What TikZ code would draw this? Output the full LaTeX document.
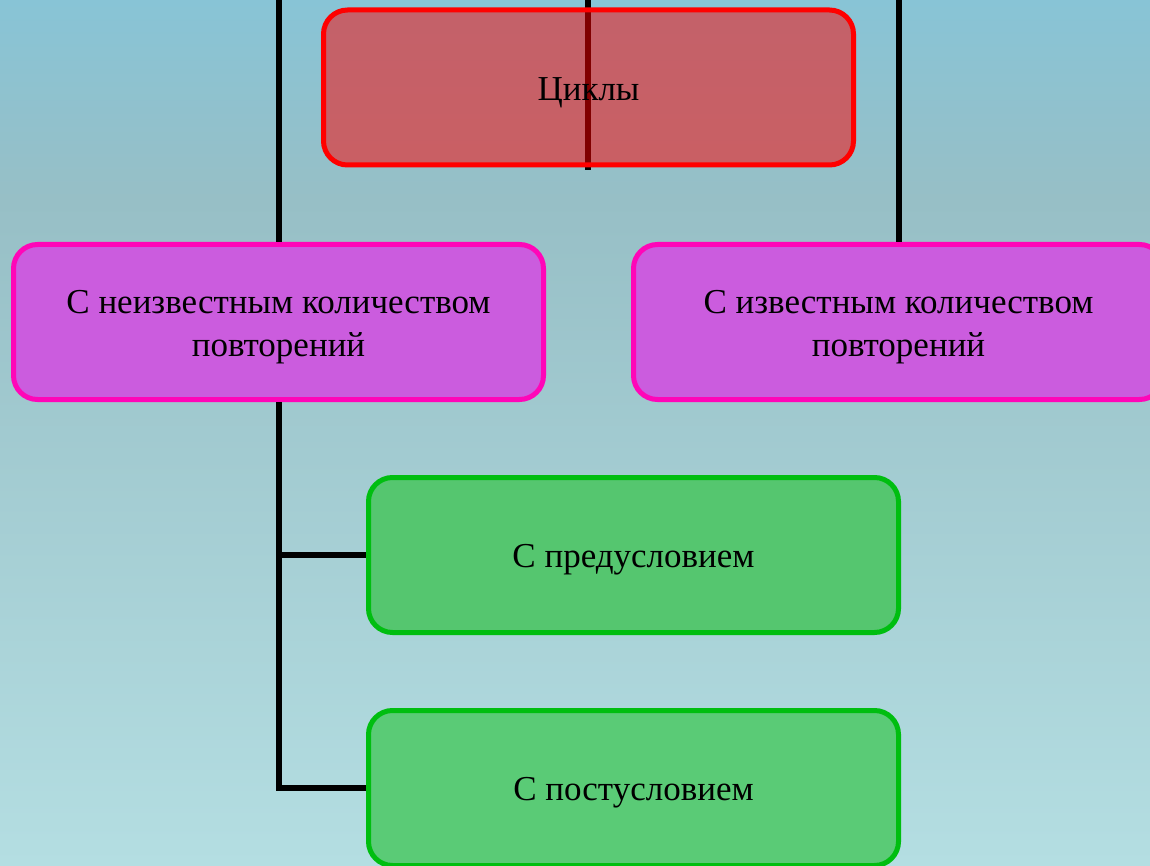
\documentclass[tikz,border=0pt]{standalone}
\usepackage{fontspec}
\setmainfont{Liberation Serif}
\definecolor{bgtop}{HTML}{88C4D6}
\definecolor{bgmid}{HTML}{97BFC6}
\definecolor{bgbot}{HTML}{B4DEE2}
\definecolor{magfill}{HTML}{CB5CDE}
\definecolor{magline}{HTML}{FF06B8}
\definecolor{grfill}{HTML}{55C66F}
\definecolor{grfillb}{HTML}{5ACB76}
\definecolor{grline}{HTML}{00BE10}
\tikzset{
  boxbase/.style={rectangle, rounded corners=24pt, line width=5pt,
    minimum width=530pt, minimum height=155pt, align=center,
    font=\fontsize{35}{43}\selectfont, text=black},
  redbox/.style={boxbase, draw=red, fill=red, fill opacity=0.5, text opacity=1},
  magbox/.style={boxbase, draw=magline, fill=magfill},
  grbox/.style={boxbase, draw=grline, fill=grfill},
  conn/.style={line width=6pt, black},
  txt/.style={font=\fontsize{35}{43}\selectfont, align=center, text=black, inner sep=0pt},
}
\begin{document}
\begin{tikzpicture}[x=1pt,y=-1pt]
\useasboundingbox (0,0) rectangle (1150,866);
\shade[top color=bgtop, bottom color=bgmid] (0,0) rectangle (1150,200);
\shade[top color=bgmid, bottom color=bgbot] (0,200) rectangle (1150,866);

\coordinate (tl) at (278.5,0);
\coordinate (tm) at (588,0);
\coordinate (tr) at (898.5,0);
\coordinate (mb) at (588,170);

\node[magbox] (unk) at (278.5,322) {};
\node[txt] (unkt) at (278.5,327) {С неизвестным количеством\\повторений};
\node[magbox] (kn) at (898.5,322) {};
\node[txt] (knt) at (898.5,327) {С известным количеством\\повторений};
\node[grbox] (pre) at (633.5,555) {};
\node[txt] (pret) at (633.5,560) {С предусловием};
\node[grbox, fill=grfillb] (post) at (633.5,788) {};
\node[txt] (postt) at (633.5,793) {С постусловием};

\draw[conn] (tl) -- (unk.north);
\draw[conn] (tr) -- (kn.north);
\draw[conn] (tm) -- (mb);
\draw[conn] (unk.south) |- (post.west);
\draw[conn] (unk.south |- pre.west) -- (pre.west);

\node[redbox] (cyc) at (588.5,87.5) {};
\node[txt] (cyct) at (588.5,93) {Циклы};
\end{tikzpicture}
\end{document}
